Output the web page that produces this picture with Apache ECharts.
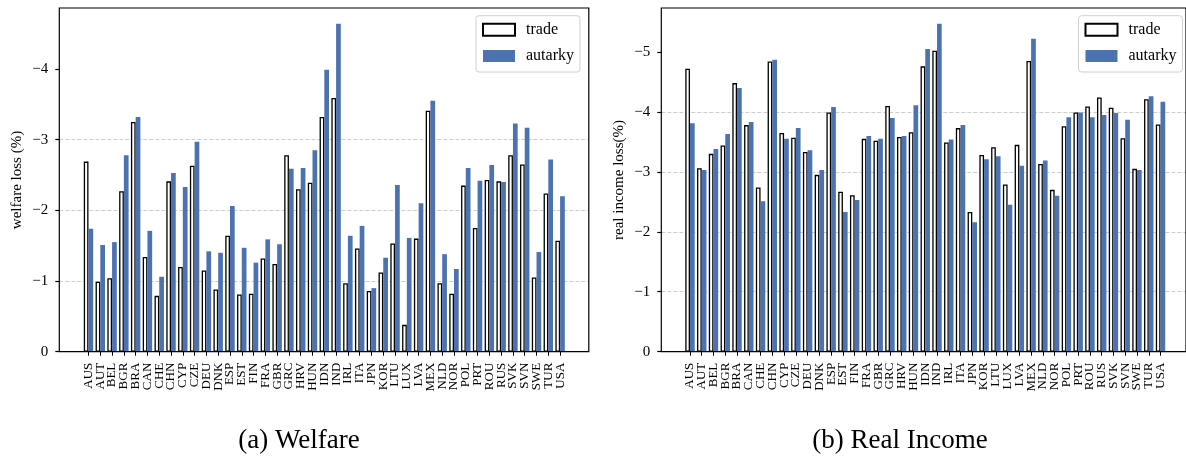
<!DOCTYPE html>
<html>
<head>
<meta charset="utf-8">
<script src="https://cdn.jsdelivr.net/npm/echarts@6/dist/echarts.min.js"></script>
<style>html,body{margin:0;padding:0;background:#fff}#c{width:1186px;height:460px}</style>
</head>
<body>
<div id="c"></div>
<script>
const categories = ['AUS','AUT','BEL','BGR','BRA','CAN','CHE','CHN','CYP','CZE','DEU','DNK','ESP','EST','FIN','FRA','GBR','GRC','HRV','HUN','IDN','IND','IRL','ITA','JPN','KOR','LTU','LUX','LVA','MEX','NLD','NOR','POL','PRT','ROU','RUS','SVK','SVN','SWE','TUR','USA'];
const welfareTrade = [-2.69,-0.99,-1.04,-2.27,-3.25,-1.34,-0.79,-2.41,-1.20,-2.63,-1.15,-0.88,-1.64,-0.81,-0.82,-1.32,-1.24,-2.78,-2.30,-2.39,-3.32,-3.59,-0.97,-1.46,-0.86,-1.12,-1.53,-0.38,-1.60,-3.41,-0.97,-0.82,-2.35,-1.75,-2.43,-2.41,-2.78,-2.65,-1.05,-2.24,-1.57];
const welfareAutarky = [-1.74,-1.51,-1.55,-2.78,-3.32,-1.71,-1.06,-2.53,-2.33,-2.97,-1.42,-1.40,-2.06,-1.47,-1.26,-1.59,-1.52,-2.59,-2.60,-2.85,-3.99,-4.64,-1.64,-1.78,-0.90,-1.33,-2.36,-1.61,-2.10,-3.55,-1.38,-1.17,-2.60,-2.42,-2.64,-2.40,-3.23,-3.17,-1.41,-2.72,-2.20];
const incomeTrade = [-4.72,-3.06,-3.30,-3.44,-4.48,-3.78,-2.74,-4.84,-3.65,-3.57,-3.33,-2.95,-3.99,-2.67,-2.61,-3.55,-3.52,-4.10,-3.58,-3.66,-4.76,-5.02,-3.49,-3.73,-2.33,-3.28,-3.41,-2.79,-3.45,-4.85,-3.13,-2.70,-3.76,-3.99,-4.09,-4.24,-4.07,-3.56,-3.05,-4.21,-3.79];
const incomeAutarky = [-3.81,-3.03,-3.38,-3.63,-4.40,-3.83,-2.51,-4.87,-3.55,-3.73,-3.36,-3.03,-4.08,-2.33,-2.53,-3.60,-3.55,-3.90,-3.60,-4.11,-5.05,-5.47,-3.54,-3.78,-2.16,-3.21,-3.26,-2.45,-3.10,-5.22,-3.19,-2.60,-3.91,-3.99,-3.91,-3.95,-3.98,-3.87,-3.03,-4.26,-4.17];
const welfareTicks = [0,1,2,3,4];
const incomeTicks = [0,1,2,3,4,5];
const seriesNames = ['trade','autarky'];
const panelTitles = ['(a) Welfare','(b) Real Income'];
const yNames = ['welfare loss (%)','real income loss(%)'];

const FONT = 'Liberation Serif';
const BLUE = '#4c72b0';
const TOP = 8, H = 343.7;

const panels = [
  {frameLeft:59.3, frameW:529.5, barLeft:82.6, barW:483.4, yMax:4.863, ticks:welfareTicks, trade:welfareTrade, aut:welfareAutarky, legendLeft:476, nameX:17.5, capX:299},
  {frameLeft:661.3, frameW:529, barLeft:684.1, barW:482.3, yMax:5.733, ticks:incomeTicks, trade:incomeTrade, aut:incomeAutarky, legendLeft:1078.5, nameX:619.5, capX:900}
];

const grid=[], xAxis=[], yAxis=[], series=[], legend=[], graphic=[];
const neg = v => -v;
const lab = v => v === 0 ? '0' : '\u2212' + v;

panels.forEach((p, i) => {
  const gF = grid.length;
  grid.push({left:p.frameLeft, top:TOP, width:p.frameW, height:H, show:true, borderColor:'#000', borderWidth:1.2, backgroundColor:'transparent', z:3});
  grid.push({left:p.barLeft, top:TOP, width:p.barW, height:H});
  xAxis.push({gridIndex:gF, type:'value', min:0, max:1, show:false});
  xAxis.push({gridIndex:gF+1, type:'category', data:categories,
    axisLine:{show:false, onZero:false},
    axisTick:{show:true, alignWithLabel:true, length:4, lineStyle:{color:'#000', width:1}},
    axisLabel:{rotate:90, interval:0, margin:11, fontSize:13, fontFamily:FONT, color:'#000'}});
  yAxis.push({gridIndex:gF, type:'value', min:0, max:p.yMax,
    axisLine:{show:false},
    axisTick:{show:true, length:4, customValues:p.ticks, lineStyle:{color:'#000', width:1.2}},
    axisLabel:{formatter:lab, customValues:p.ticks, margin:11, fontSize:15, fontFamily:FONT, color:'#000'},
    splitLine:{show:true, showMinLine:false, showMaxLine:false, lineStyle:{color:'#cdcdcd', width:1, type:[4,2]}}});
  yAxis.push({gridIndex:gF+1, type:'value', min:0, max:p.yMax, show:false, splitLine:{show:false}});
  const bw = p.barW/41*0.4;
  series.push({name:seriesNames[0], type:'bar', xAxisIndex:gF+1, yAxisIndex:gF+1, data:p.trade.map(neg),
    barWidth:bw, barGap:'0%', itemStyle:{color:'#fff', borderColor:'#000', borderWidth:1.3}});
  series.push({name:seriesNames[1], type:'bar', xAxisIndex:gF+1, yAxisIndex:gF+1, data:p.aut.map(neg),
    barWidth:bw, barGap:'0%', itemStyle:{color:BLUE}});
  legend.push({left:p.legendLeft, top:15.7, orient:'vertical', data:seriesNames, icon:'rect',
    itemWidth:32, itemHeight:12, itemGap:10.3, padding:[6,6,8,6],
    backgroundColor:'#fff', borderColor:'#d0d0d0', borderWidth:1, borderRadius:3,
    textStyle:{fontFamily:FONT, fontSize:16, color:'#000', lineHeight:12, padding:[0,0,0,6]},
    selectedMode:false});
  graphic.push({type:'text', x:p.nameX, y:180, rotation:Math.PI/2,
    style:{text:yNames[i], fontFamily:FONT, fontSize:15, fill:'#000', textAlign:'center', textVerticalAlign:'middle'}});
  graphic.push({type:'text', x:p.capX, y:441,
    style:{text:panelTitles[i], fontFamily:FONT, fontSize:27, fill:'#000', textAlign:'center', textVerticalAlign:'middle'}});
});

const chart = echarts.init(document.getElementById('c'), null, {renderer:'canvas'});
chart.setOption({animation:false, backgroundColor:'#fff', grid, xAxis, yAxis, series, legend, graphic});
</script>
</body>
</html>
